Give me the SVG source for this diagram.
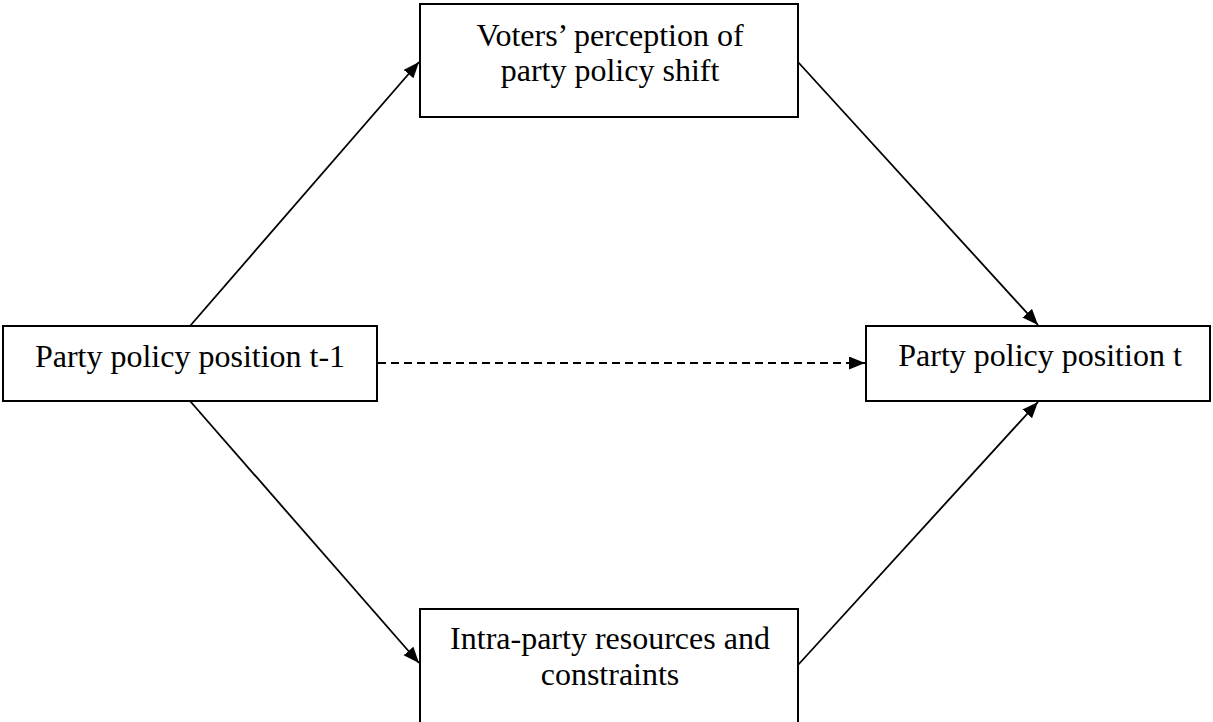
<svg xmlns="http://www.w3.org/2000/svg" width="1213" height="722" viewBox="0 0 1213 722">
<style>
.box{fill:#fff;stroke:#000;stroke-width:2}
.lbl{font-family:"Liberation Serif","Times New Roman",serif;font-size:32px;fill:#000;text-anchor:middle}
.edge{stroke:#000;stroke-width:1.8;fill:none;marker-end:url(#ah)}
.dash{stroke-dasharray:8 5}
</style>
<defs>
<marker id="ah" markerUnits="userSpaceOnUse" markerWidth="18" markerHeight="14" refX="16" refY="6.5" orient="auto">
<path d="M0,0 L16,6.5 L0,13 z" fill="#000"/>
</marker>
</defs>
<rect width="1213" height="722" fill="#fff"/>
<g id="connectors">
<line class="edge" x1="190" y1="326" x2="419" y2="62"/>
<line class="edge" x1="798" y1="62" x2="1038" y2="325"/>
<line class="edge" x1="190" y1="401" x2="419" y2="663"/>
<line class="edge" x1="798" y1="665" x2="1038" y2="402"/>
<line class="edge dash" x1="378" y1="363" x2="865" y2="363"/>
</g>
<g id="node-voters">
<rect class="box" x="420" y="4" width="378" height="113"/>
<text class="lbl" x="610" y="46">Voters’ perception of</text>
<text class="lbl" x="610" y="81">party policy shift</text>
</g>
<g id="node-t1">
<rect class="box" x="3" y="326" width="374" height="75"/>
<text class="lbl" x="190" y="367">Party policy position t-1</text>
</g>
<g id="node-t">
<rect class="box" x="866" y="326" width="344" height="75"/>
<text class="lbl" x="1040" y="366">Party policy position t</text>
</g>
<g id="node-intra">
<rect class="box" x="420" y="609" width="378" height="130"/>
<text class="lbl" x="610" y="649">Intra-party resources and</text>
<text class="lbl" x="610" y="685">constraints</text>
</g>
</svg>
